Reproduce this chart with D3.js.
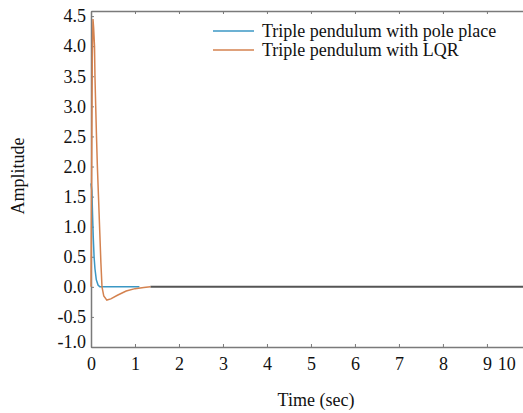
<!DOCTYPE html>
<html>
<head>
<meta charset="utf-8">
<script src="https://cdn.jsdelivr.net/npm/d3@7"></script>
<style>
  body { margin: 0; background: #fff; }
  text { font-family: "Liberation Serif", "DejaVu Serif", serif; fill: #111; }
</style>
</head>
<body>
<div id="chart"></div>
<script>
const width = 523;
const height = 413;

// series
const poleTime = [0, 0.02, 0.035, 0.05, 0.07, 0.09, 0.12, 0.16, 0.2, 1.1];
const poleAmp  = [1.72, 1.6, 1.2, 0.85, 0.5, 0.3, 0.12, 0.03, 0, 0];

const lqrTime = [0, 0.01, 0.02, 0.03, 0.045, 0.06, 0.08, 0.09, 0.107, 0.125, 0.145, 0.17, 0.2, 0.225, 0.25, 0.29, 0.36, 0.45, 0.6, 0.8, 1.0, 1.2, 1.35];
const lqrAmp  = [0, 1.2, 2.6, 3.8, 4.45, 4.3, 4.0, 3.5, 3.0, 2.5, 2.0, 1.5, 0.9, 0.4, 0, -0.15, -0.22, -0.2, -0.14, -0.07, -0.03, -0.01, 0];

const settledTime = [1.35, 9.82];
const settledAmp  = [0, 0];

const yTicks = [4.5, 4.0, 3.5, 3.0, 2.5, 2.0, 1.5, 1.0, 0.5, 0.0, -0.5, -1.0];
const xTicks = [0, 1, 2, 3, 4, 5, 6, 7, 8, 9];
const xEndLabel = "10";

const legendNames = ["Triple pendulum with pole place", "Triple pendulum with LQR"];
const colors = ["#3b97c4", "#d4824f"];

const margin = {top: 11, right: 0, bottom: 66, left: 91};

const svg = d3.select("#chart").append("svg")
  .attr("width", width)
  .attr("height", height);

const x = d3.scaleLinear().domain([0, 9.82]).range([margin.left, width - margin.right]);
const y = d3.scaleLinear().domain([-1.0, 4.585]).range([height - margin.bottom, margin.top]);

const axisColor = "#7a7a7a";
const fmtY = d => d3.format(".1f")(d).replace("\u2212", "-");

// bottom axis
const xAxis = svg.append("g")
  .attr("transform", `translate(0,${y(-1.0)})`)
  .call(d3.axisBottom(x).tickValues(xTicks).tickSize(-3).tickSizeOuter(0).tickFormat(d3.format("d")));
xAxis.select(".domain").attr("stroke", axisColor).attr("stroke-width", 1.5);
xAxis.selectAll(".tick line").attr("stroke", axisColor);
xAxis.selectAll(".tick text").attr("y", 7).attr("dy", "0.9em").style("font-size", "18px");
xAxis.append("text")
  .attr("x", x(9.45)).attr("y", 7).attr("dy", "0.9em")
  .attr("text-anchor", "middle")
  .style("font-size", "18px")
  .text(xEndLabel);

// top border
const xTop = svg.append("g")
  .attr("transform", `translate(0,${margin.top})`)
  .call(d3.axisTop(x).tickValues(xTicks).tickSize(-3).tickSizeOuter(0).tickFormat(""));
xTop.select(".domain").attr("stroke", axisColor).attr("stroke-width", 1.5);
xTop.selectAll(".tick line").attr("stroke", axisColor);

// left axis
const yAxis = svg.append("g")
  .attr("transform", `translate(${margin.left},0)`)
  .call(d3.axisLeft(y).tickValues(yTicks).tickSize(-3).tickSizeOuter(0).tickFormat(fmtY));
yAxis.select(".domain").attr("stroke", axisColor).attr("stroke-width", 1.5);
yAxis.selectAll(".tick line").attr("stroke", axisColor);
yAxis.selectAll(".tick text").attr("x", -5).style("font-size", "18px");
// lowest label sits a little above its tick in the picture
yAxis.selectAll(".tick text").filter(d => d === -1.0).attr("dy", "0.05em");

// lines
const line = d3.line()
  .x(d => x(d[0]))
  .y(d => y(d[1]));

svg.append("path")
  .datum(d3.zip(settledTime, settledAmp))
  .attr("fill", "none")
  .attr("stroke", "#555")
  .attr("stroke-width", 2)
  .attr("d", line);

svg.append("path")
  .datum(d3.zip(poleTime, poleAmp))
  .attr("fill", "none")
  .attr("stroke", colors[0])
  .attr("stroke-width", 1.5)
  .attr("d", line);

svg.append("path")
  .datum(d3.zip(lqrTime, lqrAmp))
  .attr("fill", "none")
  .attr("stroke", colors[1])
  .attr("stroke-width", 1.5)
  .attr("d", line);

// legend
const legend = svg.append("g").attr("transform", "translate(213,31)");
legendNames.forEach((name, i) => {
  const row = legend.append("g").attr("transform", `translate(0,${i * 19})`);
  row.append("line")
    .attr("x1", 0).attr("x2", 41)
    .attr("stroke", colors[i])
    .attr("stroke-width", 1.5);
  row.append("text")
    .attr("x", 49)
    .attr("dy", "0.33em")
    .style("font-size", "18px")
    .text(name);
});

// axis titles
svg.append("text")
  .attr("transform", "translate(24,176) rotate(-90)")
  .attr("text-anchor", "middle")
  .style("font-size", "18px")
  .text("Amplitude");

svg.append("text")
  .attr("x", 316)
  .attr("y", 406)
  .attr("text-anchor", "middle")
  .style("font-size", "18px")
  .text("Time (sec)");
</script>
</body>
</html>
